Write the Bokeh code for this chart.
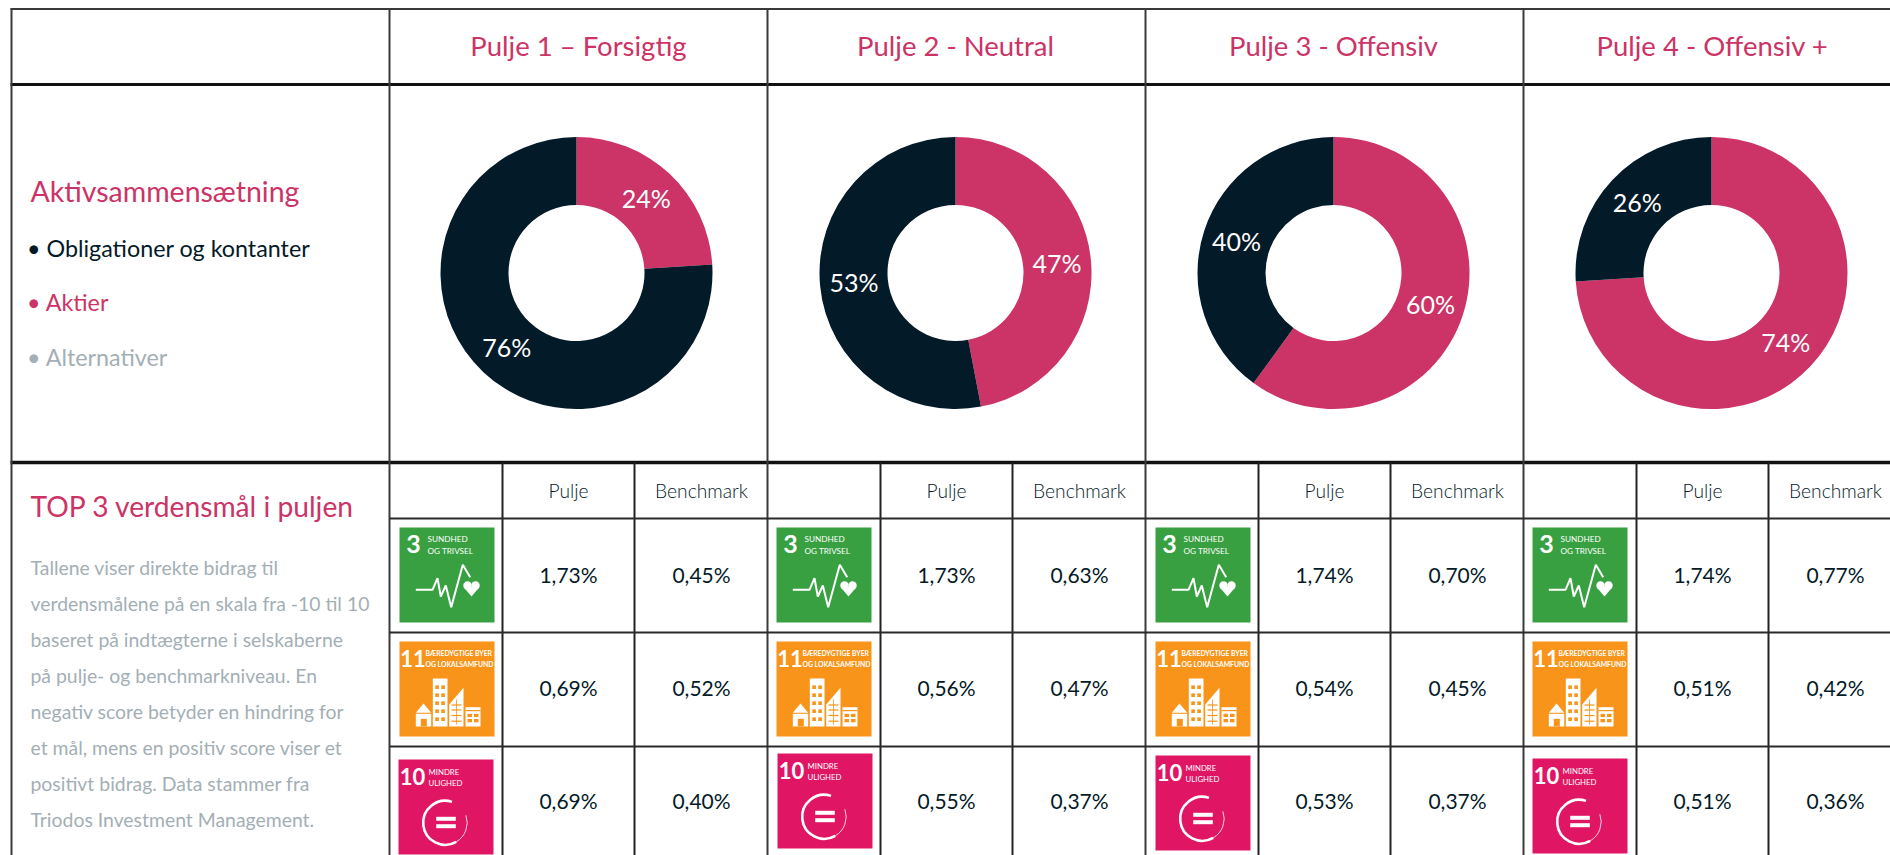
from bokeh.plotting import figure
from bokeh.models import Range1d
from bokeh.core.properties import value
from bokeh.embed import file_html
from bokeh.resources import INLINE
import math

pools = ["Pulje 1 – Forsigtig", "Pulje 2 - Neutral", "Pulje 3 - Offensiv", "Pulje 4 - Offensiv +"]
aktier = [24, 47, 60, 74]
obligationer = [76, 53, 40, 26]
legend_items = ["• Obligationer og kontanter", "• Aktier", "• Alternativer"]
section_title = "Aktivsammensætning"
top_title = "TOP 3 verdensmål i puljen"
paragraph = [
    "Tallene viser direkte bidrag til",
    "verdensmålene på en skala fra -10 til 10",
    "baseret på indtægterne i selskaberne",
    "på pulje- og benchmarkniveau. En",
    "negativ score betyder en hindring for",
    "et mål, mens en positiv score viser et",
    "positivt bidrag. Data stammer fra",
    "Triodos Investment Management.",
]
col_heads = ["Pulje", "Benchmark"]
pulje_vals = [[1.73, 0.69, 0.69], [1.73, 0.56, 0.55], [1.74, 0.54, 0.53], [1.74, 0.51, 0.51]]
bench_vals = [[0.45, 0.52, 0.40], [0.63, 0.47, 0.37], [0.70, 0.45, 0.37], [0.77, 0.42, 0.36]]

PINK = "#CC3366"
NAVY = "#031A28"
GRAY = "#A3AFB5"
LINE = "#3A3A3A"
WHITE = "#FFFFFF"
GREEN = "#38A041"
ORANGE = "#F79419"
MAGENTA = "#E01665"
FONT = "Lato"
LIGHT = "Lato Light"

W, H = 1890, 855
p = figure(width=W, height=H, output_backend="svg", toolbar_location=None,
           x_range=Range1d(0, W), y_range=Range1d(0, H),
           x_axis_location=None, y_axis_location=None, min_border=0, tools="")
p.xgrid.visible = False
p.ygrid.visible = False
p.outline_line_color = None
p.background_fill_color = WHITE


def Y(y):
    return 855 - y


def txt(x, y, s, size, color, font=FONT, align="left", base="middle", style="normal"):
    p.text([x], [Y(y)], text=[s], text_font=value(font), text_font_size=f"{size}px",
           text_color=color, text_align=align, text_baseline=base, text_font_style=style)


def hline(y, x0, x1, w=2, c=LINE):
    p.segment([x0], [Y(y)], [x1], [Y(y)], line_color=c, line_width=w)


def vline(x, y0, y1, w=2, c=LINE):
    p.segment([x], [Y(y0)], [x], [Y(y1)], line_color=c, line_width=w)


def box(x0, y0, x1, y1, c):
    p.quad(left=[x0], right=[x1], top=[Y(y0)], bottom=[Y(y1)], fill_color=c, line_color=None)


def poly(pts, c):
    p.patch([a for a, _ in pts], [Y(b) for _, b in pts], fill_color=c, line_color=None)


# donuts
CX = [576, 955, 1333, 1711]
CY, R_OUT, R_IN = 272.5, 136, 68
for i, (a, o) in enumerate(zip(aktier, obligationer)):
    cx = CX[i]
    start = 0.0
    for val, col in ((a, PINK), (o, NAVY)):
        end = start + val
        th0 = math.pi / 2 - start / 100 * 2 * math.pi
        th1 = math.pi / 2 - end / 100 * 2 * math.pi
        p.annular_wedge([cx], [Y(CY)], inner_radius=R_IN, outer_radius=R_OUT, start_angle=th1, end_angle=th0,
                        fill_color=col, line_color=None)
        mid = (th0 + th1) / 2
        rm = (R_IN + R_OUT) / 2
        txt(cx + rm * math.cos(mid), CY - 0.7 - rm * math.sin(mid), f"{val}%", 25, WHITE, align="center")
        start = end

# grid
VX = [389, 767, 1145, 1523]
hline(8.5, 10, 1890, 2)
hline(84, 10, 1890, 3, "#111111")
hline(462, 10, 1890, 3.5, "#111111")
vline(11, 8, 855, 2)
for x in VX:
    vline(x, 8, 855, 2)
    vline(x + 113, 462, 855, 2, "#222222")
    vline(x + 245, 462, 855, 2, "#222222")
for y in (518, 632, 746):
    hline(y, 389, 1890, 2, "#2A2A2A")

# left column
txt(30, 190, section_title, 28.5, PINK)
for s, c, y in zip(legend_items, (NAVY, PINK, GRAY), (247.5, 301.5, 356)):
    txt(26.5, y, s, 23.3, c)
txt(30, 505, top_title, 28.2, PINK)
for i, s in enumerate(paragraph):
    txt(30, 566.5 + 36 * i, s, 19.4, GRAY)

# titles
for s, x in zip(pools, (578, 955, 1333, 1712)):
    txt(x, 44.5, s, 27.5, PINK, align="center")


# icons
def icon3(x, y):
    box(x, y, x + 95, y + 95, GREEN)
    txt(x + 14, y + 16.5, "3", 25, WHITE, align="center", style="bold")
    txt(x + 28, y + 11.5, "SUNDHED", 8.2, WHITE)
    txt(x + 28, y + 23.5, "OG TRIVSEL", 8.2, WHITE)
    pts = [(16.3, 62.3), (33, 62.3), (38, 50.7), (41.3, 69), (46.3, 58), (51.7, 79.7), (63.3, 37.3), (70.7, 49.7)]
    p.line([x + a for a, _ in pts], [Y(y + b) for _, b in pts], line_color=WHITE, line_width=2)
    for dx in (68, 76):
        p.circle([x + dx], [Y(y + 58)], radius=4.2, fill_color=WHITE, line_color=None)
    poly([(x + 64, y + 59.5), (x + 80, y + 59.5), (x + 72, y + 69)], WHITE)


def icon11(x, y):
    box(x, y, x + 95, y + 95, ORANGE)
    txt(x + 13.5, y + 16.5, "11", 22, WHITE, align="center", style="bold")
    txt(x + 26, y + 11.5, "BÆREDYGTIGE BYER", 6.8, WHITE, style="bold")
    txt(x + 26, y + 22.5, "OG LOKALSAMFUND", 6.8, WHITE, style="bold")
    # tall building
    box(x + 33.3, y + 37, x + 48, y + 85, WHITE)
    for wy in (45.7, 53.7, 61.7, 69.7, 77.7):
        for wx in (37.6, 43.6):
            box(x + wx - 1.8, y + wy - 1.8, x + wx + 1.8, y + wy + 1.8, ORANGE)
    # house
    poly([(x + 24, y + 62), (x + 16.3, y + 71.3), (x + 31.7, y + 71.3)], WHITE)
    box(x + 16.3, y + 72.3, x + 31.7, y + 85, WHITE)
    box(x + 21.3, y + 77.3, x + 27.3, y + 85, ORANGE)
    # sloped building
    poly([(x + 49.7, y + 85), (x + 49.7, y + 63), (x + 64, y + 46.3), (x + 64, y + 85)], WHITE)
    for ly in (63.5, 68.5, 74, 79.7):
        box(x + 52, y + ly - 0.6, x + 62, y + ly + 0.6, ORANGE)
    box(x + 56.5, y + 58, x + 57.3, y + 83, ORANGE)
    # low building
    box(x + 66, y + 65.7, x + 81, y + 85, WHITE)
    box(x + 66, y + 68.5, x + 81, y + 69.7, ORANGE)
    for wx in (68, 74.5):
        for wy in (72.3, 77.5):
            box(x + wx, y + wy, x + wx + 4.5, y + wy + 3.3, ORANGE)


def icon10(x, y):
    box(x, y, x + 95, y + 95, MAGENTA)
    txt(x + 14, y + 16.5, "10", 22, WHITE, align="center", style="bold")
    txt(x + 30, y + 12.5, "MINDRE", 7.8, WHITE)
    txt(x + 30, y + 23.5, "ULIGHED", 7.8, WHITE)
    cx, cy = x + 46.7, Y(y + 63.3)
    p.arc([cx], [cy], radius=22, start_angle=math.radians(72), end_angle=math.radians(300),
          line_color=WHITE, line_width=2.6)
    p.arc([cx], [cy], radius=22, start_angle=math.radians(300), end_angle=math.radians(380),
          line_color=WHITE, line_width=0.8)
    box(x + 37.7, y + 57.3, x + 57.3, y + 61.3, WHITE)
    box(x + 37.7, y + 64.7, x + 57.3, y + 68.7, WHITE)


ICON_X = [399, 776, 1155, 1532]
ICON10_POS = [(398, 759), (777, 753), (1155, 755), (1532, 758)]
ROW_Y = [573.5, 687, 800]
for i in range(4):
    x = VX[i]
    icon3(ICON_X[i], 527)
    icon11(ICON_X[i], 641)
    icon10(*ICON10_POS[i])
    c1, c2 = x + 179, x + 312
    txt(c1, 489.5, col_heads[0], 19.2, NAVY, font=LIGHT, align="center")
    txt(c2, 489.5, col_heads[1], 19.2, NAVY, font=LIGHT, align="center")
    for ry, a, b in zip(ROW_Y, pulje_vals[i], bench_vals[i]):
        txt(c1, ry, f"{a:.2f}%".replace(".", ","), 21, NAVY, align="center")
        txt(c2, ry, f"{b:.2f}%".replace(".", ","), 21, NAVY, align="center")

open("out.html", "w").write(file_html(p, INLINE))
